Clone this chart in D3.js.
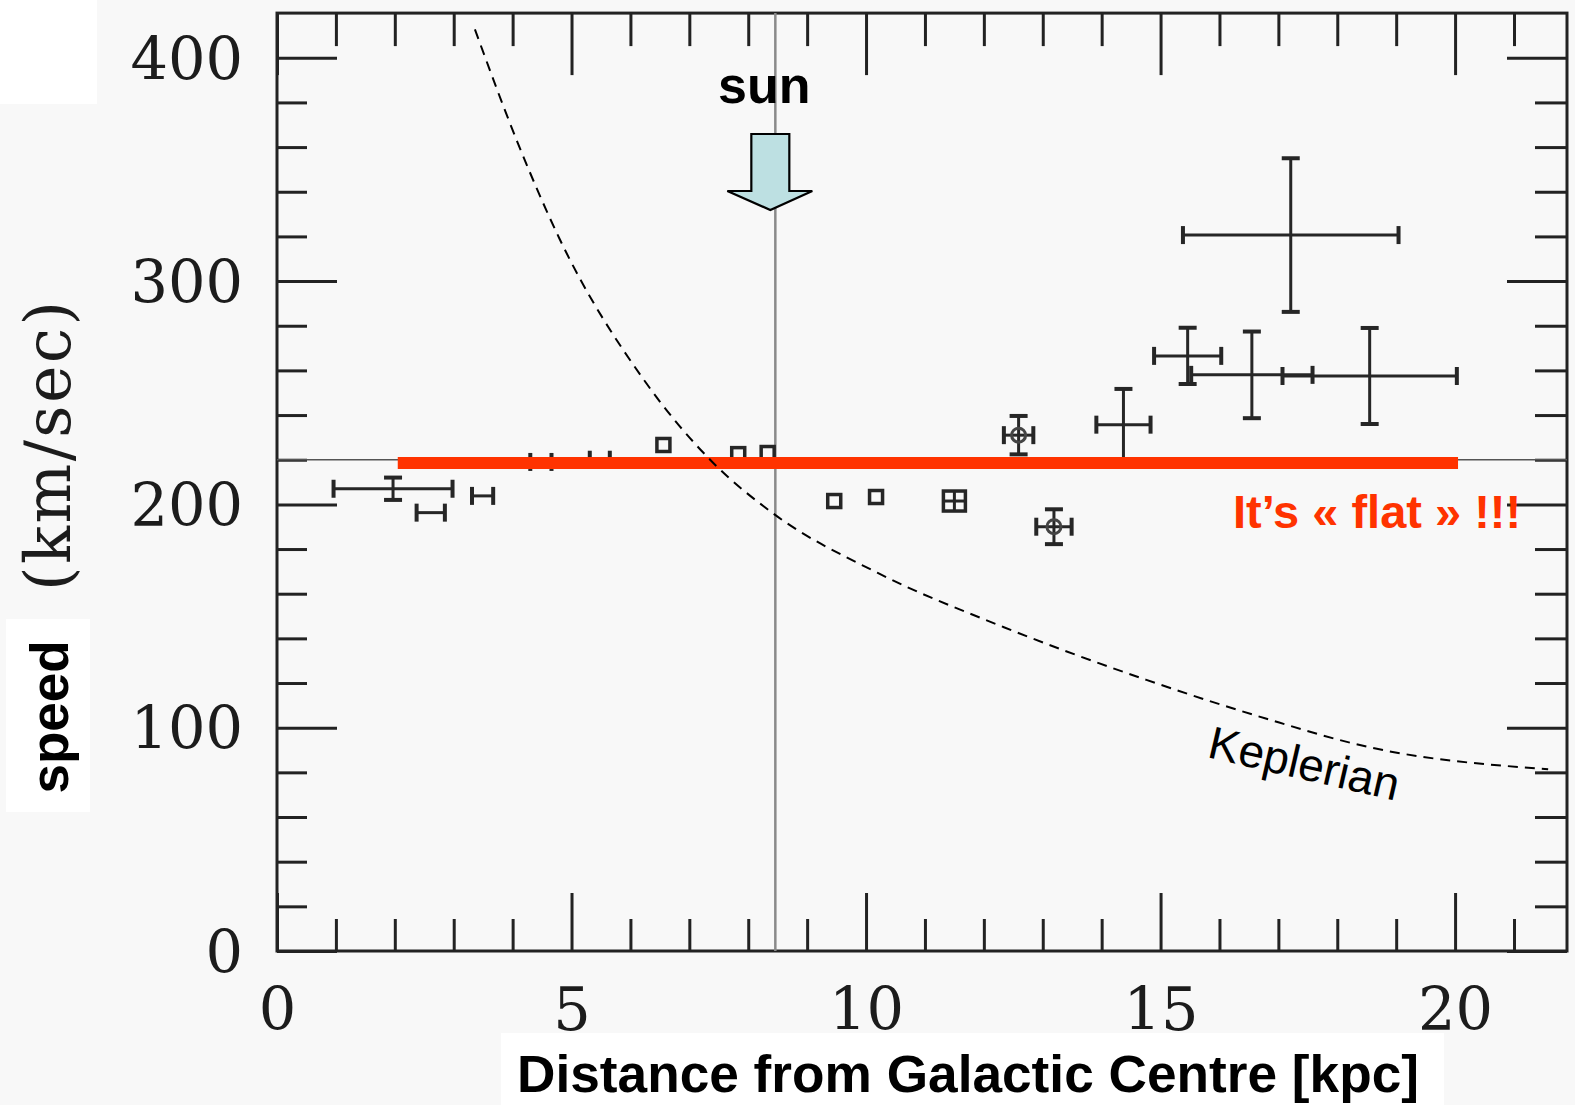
<!DOCTYPE html>
<html><head><meta charset="utf-8">
<script src="https://cdn.jsdelivr.net/npm/d3@7"></script>
<style>body{margin:0;background:#f8f8f8;} svg{display:block}</style>
</head><body><svg id="c" width="1575" height="1105"></svg>
<script>
// ---- data ----
const xMajor = [0, 5, 10, 15, 20];
const xMinor = [1, 2, 3, 4, 6, 7, 8, 9, 11, 12, 13, 14, 16, 17, 18, 19, 21];
const yMajor = [0, 100, 200, 300, 400];
const yMinor = [20, 40, 60, 80, 120, 140, 160, 180, 220, 240, 260, 280, 320, 340, 360, 380];

const radius    = [1.97, 2.61, 3.49, 4.48, 5.48, 6.56, 7.83, 8.33, 9.46, 10.17, 11.50, 12.59, 13.19, 14.37, 15.46, 16.55, 17.21, 18.55];
const speed     = [207, 196.3, 203.8, 219, 220, 226.6, 222.5, 223, 201.5, 203.3, 201.5, 231, 190, 235.7, 266.5, 258, 320.6, 257.5];
const radiusErr = [1.01, 0.24, 0.18, 0.18, 0.17, 0, 0, 0, 0, 0, 0.19, 0.25, 0.3, 0.46, 0.57, 1.03, 1.83, 1.48];
const speedErr  = [5, 0, 0, 0, 0, 0, 0, 0, 0, 0, 4.5, 8.6, 7.8, 16, 12.6, 19.4, 34.4, 21.5];
const marker    = ['none','none','none','none','none','square','square','square','square','square','boxcross','circle','circle','none','none','none','none','none'];

const keplerR = [3.36, 4.09, 4.79, 6.23, 7.39, 8.42, 10.19, 12.34, 14.76, 16.8, 18.5, 21.58];
const keplerV = [412.7, 361.7, 319.3, 255.7, 219, 196, 169.4, 145, 121.4, 104, 91.5, 81.4];

const sunR = 8.46;
const refSpeed = 220;
const flatSpeed = 218.5;
const flatRange = [2.05, 20.05];

// ---- setup ----
const svg = d3.select('#c');
const x = d3.scaleLinear().domain([0, 21.9]).range([277, 1567]);
const y = d3.scaleLinear().domain([0, 420]).range([951, 13.1]);
const ink = '#222';

// white label boxes
svg.append('rect').attr('x', 0).attr('y', 0).attr('width', 97).attr('height', 104).attr('fill', '#fff');
svg.append('rect').attr('x', 6).attr('y', 619).attr('width', 84).attr('height', 193).attr('fill', '#fff');
svg.append('rect').attr('x', 501).attr('y', 1033).attr('width', 943).attr('height', 72).attr('fill', '#fff');

function addAxis(axis, tr) {
  const g = svg.append('g').attr('transform', tr).call(axis);
  g.select('.domain').remove();
  g.selectAll('.tick line').attr('stroke', ink).attr('stroke-width', 3);
  g.selectAll('.tick text').attr('font-family', 'DejaVu Serif').attr('font-size', 59).attr('fill', '#1c1c1c');
  return g;
}
const fmt = d3.format('d');
// bottom
addAxis(d3.axisBottom(x).tickValues(xMajor).tickSize(-58).tickPadding(37).tickFormat(fmt), `translate(0,${y(0)})`);
addAxis(d3.axisBottom(x).tickValues(xMinor).tickSize(-32).tickFormat(''), `translate(0,${y(0)})`);
// top
addAxis(d3.axisTop(x).tickValues(xMajor).tickSize(-62).tickFormat(''), `translate(0,${y(420)})`);
addAxis(d3.axisTop(x).tickValues(xMinor).tickSize(-33).tickFormat(''), `translate(0,${y(420)})`);
// left
const gl = addAxis(d3.axisLeft(y).tickValues(yMajor).tickSize(-60).tickPadding(34).tickFormat(fmt), `translate(${x(0)},0)`);
gl.selectAll('.tick text').attr('dy', '0.36em');
addAxis(d3.axisLeft(y).tickValues(yMinor).tickSize(-30).tickFormat(''), `translate(${x(0)},0)`);
// right
addAxis(d3.axisRight(y).tickValues(yMajor).tickSize(-60).tickFormat(''), `translate(${x(21.9)},0)`);
addAxis(d3.axisRight(y).tickValues(yMinor).tickSize(-32).tickFormat(''), `translate(${x(21.9)},0)`);

// frame
svg.append('rect').attr('x', x(0)).attr('y', y(420)).attr('width', x(21.9) - x(0)).attr('height', y(0) - y(420))
  .attr('fill', 'none').attr('stroke', ink).attr('stroke-width', 3);

// reference lines
svg.append('line').attr('x1', x(0)).attr('x2', x(21.9)).attr('y1', y(refSpeed)).attr('y2', y(refSpeed))
  .attr('stroke', '#555').attr('stroke-width', 1.6);
svg.append('line').attr('x1', x(sunR)).attr('x2', x(sunR)).attr('y1', y(420)).attr('y2', y(0))
  .attr('stroke', '#8a8a8a').attr('stroke-width', 2.5);

// data points
const pts = radius.map((r, i) => ({r, v: speed[i], re: radiusErr[i], ve: speedErr[i], m: marker[i]}));
const dg = svg.append('g').attr('stroke', '#262626').attr('stroke-width', 3).attr('fill', 'none');
const cap = 9;
pts.forEach(p => {
  const cx = x(p.r), cy = y(p.v);
  const caps = p.m !== 'boxcross';
  if (p.re > 0) {
    const x1 = x(p.r - p.re), x2 = x(p.r + p.re);
    dg.append('line').attr('x1', x1).attr('x2', x2).attr('y1', cy).attr('y2', cy);
    if (caps) {
      dg.append('line').attr('x1', x1).attr('x2', x1).attr('y1', cy - cap).attr('y2', cy + cap).attr('stroke-width', 4);
      dg.append('line').attr('x1', x2).attr('x2', x2).attr('y1', cy - cap).attr('y2', cy + cap).attr('stroke-width', 4);
    }
  }
  if (p.ve > 0) {
    const y1 = y(p.v + p.ve), y2 = y(p.v - p.ve);
    dg.append('line').attr('x1', cx).attr('x2', cx).attr('y1', y1).attr('y2', y2);
    if (caps) {
      dg.append('line').attr('x1', cx - cap).attr('x2', cx + cap).attr('y1', y1).attr('y2', y1).attr('stroke-width', 4);
      dg.append('line').attr('x1', cx - cap).attr('x2', cx + cap).attr('y1', y2).attr('y2', y2).attr('stroke-width', 4);
    }
  }
  if (p.m === 'square') {
    dg.append('rect').attr('x', cx - 6.5).attr('y', cy - 6.5).attr('width', 13).attr('height', 13).attr('stroke-width', 3.5);
  } else if (p.m === 'boxcross') {
    dg.append('rect').attr('x', cx - 11).attr('y', cy - 10).attr('width', 22).attr('height', 20).attr('stroke-width', 3.5);
  } else if (p.m === 'circle') {
    dg.append('circle').attr('cx', cx).attr('cy', cy).attr('r', 7).attr('stroke-width', 3).attr('stroke', '#444');
  }
});

// flat red line
svg.append('line').attr('x1', x(flatRange[0])).attr('x2', x(flatRange[1])).attr('y1', y(flatSpeed)).attr('y2', y(flatSpeed))
  .attr('stroke', '#ff3300').attr('stroke-width', 12);

// Keplerian curve
const kLine = d3.line().x(d => x(d[0])).y(d => y(d[1])).curve(d3.curveMonotoneX);
svg.append('path').attr('d', kLine(keplerR.map((r, i) => [r, keplerV[i]])))
  .attr('fill', 'none').attr('stroke', '#000').attr('stroke-width', 2).attr('stroke-dasharray', '10,7');

// annotations
svg.append('text').attr('transform', 'translate(1206,757) rotate(13)')
  .attr('font-family', 'Liberation Sans, Arial, sans-serif').attr('font-size', 46).attr('fill', '#000').text('Keplerian');

svg.append('text').attr('x', 1233).attr('y', 528)
  .attr('font-family', 'Liberation Sans, Arial, sans-serif').attr('font-weight', 'bold').attr('font-size', 47)
  .attr('fill', '#ff3300').text('It’s « flat » !!!');

const sx = x(sunR) - 5;
svg.append('text').attr('x', sx - 6).attr('y', 103).attr('text-anchor', 'middle')
  .attr('font-family', 'Liberation Sans, Arial, sans-serif').attr('font-weight', 'bold').attr('font-size', 52)
  .attr('fill', '#000').text('sun');
const arrow = [[sx - 19, 134], [sx + 19, 134], [sx + 19, 191], [sx + 42, 191], [sx, 210], [sx - 43, 191], [sx - 19, 191]];
svg.append('polygon').attr('points', arrow.map(p => p.join(',')).join(' '))
  .attr('fill', '#bde0e2').attr('stroke', '#000').attr('stroke-width', 2.2).attr('stroke-linejoin', 'miter');

// axis titles
svg.append('text').attr('transform', 'translate(68,717) rotate(-90)').attr('text-anchor', 'middle')
  .attr('font-family', 'Liberation Sans, Arial, sans-serif').attr('font-weight', 'bold').attr('font-size', 53)
  .attr('fill', '#000').text('speed');
svg.append('text').attr('transform', 'translate(70,446) rotate(-90)').attr('text-anchor', 'middle')
  .attr('font-family', 'DejaVu Serif').attr('font-size', 63).attr('fill', '#1c1c1c')
  .attr('textLength', 290).attr('lengthAdjust', 'spacing').text('(km/sec)');
svg.append('text').attr('x', 517).attr('y', 1092)
  .attr('font-family', 'Liberation Sans, Arial, sans-serif').attr('font-weight', 'bold').attr('font-size', 51)
  .attr('textLength', 902).attr('lengthAdjust', 'spacingAndGlyphs')
  .attr('fill', '#000').text('Distance from Galactic Centre [kpc]');
</script></body></html>
